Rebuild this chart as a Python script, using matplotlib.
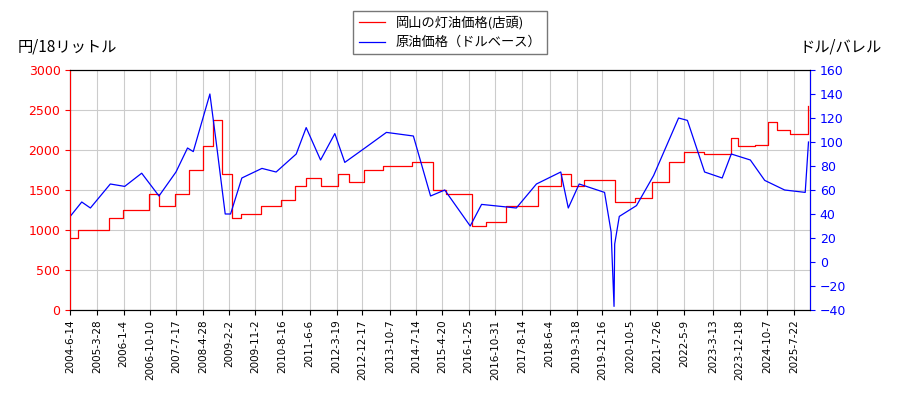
import pandas as pd
import matplotlib.pyplot as plt

plt.rcParams['font.family'] = ['Noto Sans CJK JP', 'DejaVu Sans']

kero_dates = ['2004-06-14', '2004-09-01', '2005-01-01', '2005-08-01', '2006-01-01', '2006-10-01',
              '2007-01-15', '2007-07-01', '2007-12-01', '2008-05-01', '2008-08-15', '2008-11-15',
              '2009-03-01', '2009-06-01', '2010-01-01', '2010-08-01', '2011-01-01', '2011-05-01',
              '2011-10-01', '2012-04-01', '2012-08-01', '2013-01-01', '2013-08-01', '2014-06-01',
              '2014-09-15', '2015-01-15', '2015-06-01', '2016-03-01', '2016-08-01', '2017-03-01',
              '2017-08-01', '2018-02-01', '2018-10-01', '2019-01-15', '2019-06-01', '2020-01-15',
              '2020-05-01', '2020-12-01', '2021-06-01', '2021-12-01', '2022-05-01', '2022-12-01',
              '2023-06-01', '2023-09-15', '2023-12-01', '2024-06-01', '2024-10-15', '2025-01-15',
              '2025-06-01', '2025-12-01', '2025-12-20']
kero_vals = [900, 1000, 1000, 1150, 1250, 1450, 1300, 1450, 1750, 2050, 2380, 1700,
             1150, 1200, 1300, 1380, 1550, 1650, 1550, 1700, 1600, 1750, 1800, 1850,
             1850, 1500, 1450, 1050, 1100, 1300, 1300, 1550, 1700, 1550, 1620, 1620,
             1350, 1400, 1600, 1850, 1980, 1950, 1950, 2150, 2050, 2060, 2350, 2250,
             2200, 2200, 2550]

crude_dates = ['2004-06-14', '2004-10-15', '2005-01-15', '2005-08-15', '2006-01-15', '2006-07-15',
               '2007-01-15', '2007-07-15', '2007-11-15', '2008-01-15', '2008-07-10', '2008-09-15',
               '2008-12-20', '2009-02-15', '2009-06-15', '2010-01-15', '2010-06-15', '2011-01-15',
               '2011-05-01', '2011-10-01', '2012-03-01', '2012-06-15', '2013-01-15', '2013-09-01',
               '2014-06-15', '2014-12-15', '2015-05-15', '2016-02-10', '2016-06-10', '2017-06-15',
               '2018-01-15', '2018-10-01', '2018-12-20', '2019-04-15', '2020-01-10', '2020-03-20',
               '2020-04-20', '2020-04-27', '2020-06-15', '2020-12-15', '2021-06-15', '2022-03-08',
               '2022-06-10', '2022-12-10', '2023-06-15', '2023-09-20', '2024-04-10', '2024-09-10',
               '2025-04-10', '2025-11-15', '2025-12-20']
crude_vals = [38, 50, 45, 65, 63, 74, 55, 75, 95, 92, 140, 100,
              40, 40, 70, 78, 75, 90, 112, 85, 107, 83, 95, 108,
              105, 55, 60, 30, 48, 45, 65, 75, 45, 65, 58, 25,
              -37, 15, 38, 47, 72, 120, 118, 75, 70, 90, 85, 68,
              60, 58, 100]

tick_labels = ['2004-6-14', '2005-3-28', '2006-1-4', '2006-10-10', '2007-7-17', '2008-4-28',
               '2009-2-2', '2009-11-2', '2010-8-16', '2011-6-6', '2012-3-19', '2012-12-17',
               '2013-10-7', '2014-7-14', '2015-4-20', '2016-1-25', '2016-10-31', '2017-8-14',
               '2018-6-4', '2019-3-18', '2019-12-16', '2020-10-5', '2021-7-26', '2022-5-9',
               '2023-3-13', '2023-12-18', '2024-10-7', '2025-7-22']

kd = pd.to_datetime(kero_dates)
cd = pd.to_datetime(crude_dates)
td = pd.to_datetime(tick_labels)

fig, ax = plt.subplots(figsize=(9, 4), dpi=100)
fig.subplots_adjust(left=0.078, right=0.9, top=0.825, bottom=0.225)
ax2 = ax.twinx()

l1, = ax.plot(kd, kero_vals, color='red', lw=0.9, drawstyle='steps-post', label='岡山の灯油価格(店頭)')
l2, = ax2.plot(cd, crude_vals, color='blue', lw=0.9, label='原油価格（ドルベース）')

ax.set_ylim(0, 3000)
ax2.set_ylim(-40, 160)
ax2.set_yticks(range(-40, 161, 20))
ax.set_xlim(td[0], pd.Timestamp('2026-01-05'))
ax.set_xticks(td)
ax.set_xticklabels(tick_labels, rotation=90, fontsize=7.5, family='DejaVu Sans')
for lab in ax.get_yticklabels() + ax2.get_yticklabels():
    lab.set_family('DejaVu Sans')
ax.tick_params(axis='y', colors='red', labelsize=9)
ax2.tick_params(axis='y', colors='blue', labelsize=9)
ax2.spines['right'].set_color('blue')
ax2.spines['left'].set_color('red')
ax.grid(True, color='#cccccc', lw=0.8)

fig.text(0.02, 0.87, '円/18リットル', fontsize=11)
fig.text(0.98, 0.87, 'ドル/バレル', fontsize=11, ha='right')
fig.legend(handles=[l1, l2], loc='upper center', bbox_to_anchor=(0.5, 0.99), fontsize=9.5,
           fancybox=False, edgecolor='#555555')

fig.savefig('out.png')
